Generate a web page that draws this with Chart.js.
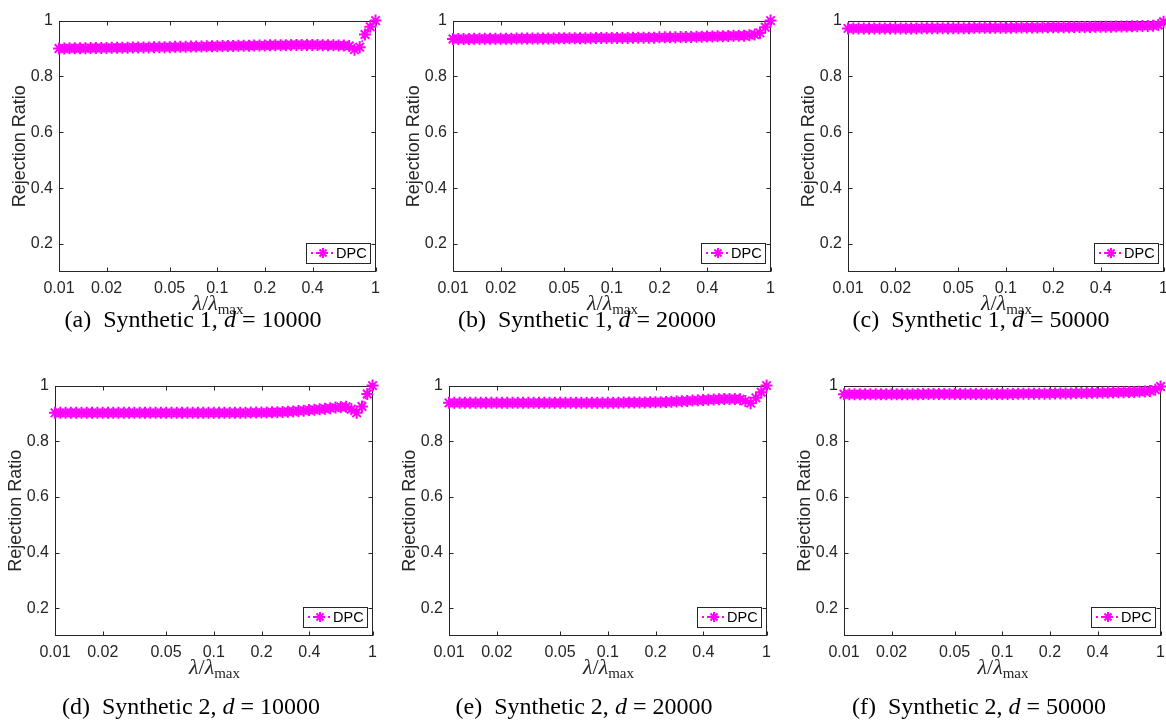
<!DOCTYPE html>
<html>
<head>
<meta charset="utf-8">
<script src="https://cdn.jsdelivr.net/npm/chart.js@4/dist/chart.umd.min.js"></script>
<style>
  body { margin: 0; width: 1166px; height: 720px; overflow: hidden; background: #fff; position: relative; }
  .panel { position: absolute; }
  .xt { position: absolute; text-align: center; font-family: "Liberation Serif", "DejaVu Serif", serif; font-size: 22px; color: #262626; line-height: 24px; }
  .xt i { font-style: italic; }
  .xt sub { font-size: 15px; vertical-align: -4px; }
  .cap { position: absolute; width: 360px; text-align: center; font-family: "Liberation Serif", "DejaVu Serif", serif; font-size: 24px; color: #000; line-height: 26px; white-space: nowrap; }
</style>
</head>
<body>
<script>
// lambda / lambda_max sample points (log spaced)
const lambdaRatio = [
  0.01, 0.0108, 0.01166, 0.01259, 0.01359, 0.01468, 0.01585, 0.01711, 0.01848, 0.01995,
  0.02154, 0.02326, 0.02512, 0.02712, 0.02929, 0.03162, 0.03415, 0.03687, 0.03981, 0.04299,
  0.04642, 0.05012, 0.05412, 0.05843, 0.0631, 0.06813, 0.07356, 0.07943, 0.08577, 0.09261,
  0.1, 0.108, 0.1166, 0.1259, 0.1359, 0.1468, 0.1585, 0.1711, 0.1848, 0.1995,
  0.2154, 0.2326, 0.2512, 0.2712, 0.2929, 0.3162, 0.3415, 0.3687, 0.3981, 0.4299,
  0.4642, 0.5012, 0.5412, 0.5843, 0.631, 0.6813, 0.7356, 0.7943, 0.8577, 0.9261,
  1
];
const xTicks = [0.01, 0.02, 0.05, 0.1, 0.2, 0.4, 1];
const yTicks = [0.2, 0.4, 0.6, 0.8, 1];

// rejection ratio of DPC
const syn1d10000 = [
  0.900, 0.900, 0.901, 0.901, 0.901, 0.901, 0.902, 0.902, 0.902, 0.902,
  0.903, 0.903, 0.903, 0.903, 0.904, 0.904, 0.904, 0.904, 0.905, 0.905,
  0.905, 0.905, 0.906, 0.906, 0.906, 0.907, 0.907, 0.907, 0.908, 0.908,
  0.908, 0.909, 0.909, 0.909, 0.910, 0.910, 0.910, 0.911, 0.911, 0.911,
  0.912, 0.912, 0.912, 0.912, 0.913, 0.913, 0.913, 0.913, 0.913, 0.913,
  0.912, 0.912, 0.912, 0.911, 0.911, 0.909, 0.896, 0.905, 0.950, 0.978,
  1.000
];
const syn1d20000 = [
  0.934, 0.934, 0.934, 0.934, 0.935, 0.935, 0.935, 0.935, 0.935, 0.935,
  0.935, 0.935, 0.936, 0.936, 0.936, 0.936, 0.936, 0.936, 0.936, 0.936,
  0.937, 0.937, 0.937, 0.937, 0.937, 0.937, 0.937, 0.938, 0.938, 0.938,
  0.938, 0.938, 0.938, 0.938, 0.939, 0.939, 0.939, 0.939, 0.939, 0.940,
  0.940, 0.940, 0.940, 0.941, 0.941, 0.941, 0.942, 0.942, 0.943, 0.943,
  0.944, 0.944, 0.945, 0.946, 0.946, 0.946, 0.948, 0.950, 0.956, 0.976,
  1.000
];
const syn1d50000 = [
  0.972, 0.972, 0.972, 0.972, 0.972, 0.972, 0.972, 0.972, 0.972, 0.972,
  0.972, 0.972, 0.972, 0.972, 0.973, 0.973, 0.973, 0.973, 0.973, 0.973,
  0.973, 0.973, 0.973, 0.973, 0.974, 0.974, 0.974, 0.974, 0.974, 0.974,
  0.974, 0.974, 0.975, 0.975, 0.975, 0.975, 0.975, 0.975, 0.976, 0.976,
  0.976, 0.976, 0.976, 0.977, 0.977, 0.977, 0.977, 0.978, 0.978, 0.978,
  0.978, 0.979, 0.979, 0.979, 0.980, 0.980, 0.981, 0.981, 0.982, 0.984,
  0.996
];
const syn2d10000 = [
  0.902, 0.902, 0.902, 0.902, 0.902, 0.902, 0.902, 0.902, 0.902, 0.902,
  0.902, 0.902, 0.902, 0.902, 0.902, 0.902, 0.902, 0.902, 0.902, 0.902,
  0.902, 0.902, 0.902, 0.902, 0.902, 0.902, 0.902, 0.902, 0.902, 0.902,
  0.902, 0.902, 0.902, 0.902, 0.902, 0.902, 0.902, 0.903, 0.903, 0.903,
  0.903, 0.904, 0.904, 0.905, 0.906, 0.907, 0.909, 0.910, 0.912, 0.913,
  0.915, 0.917, 0.919, 0.921, 0.923, 0.924, 0.915, 0.902, 0.925, 0.970,
  1.000
];
const syn2d20000 = [
  0.938, 0.938, 0.938, 0.938, 0.938, 0.938, 0.938, 0.938, 0.938, 0.938,
  0.938, 0.938, 0.938, 0.938, 0.938, 0.938, 0.938, 0.938, 0.938, 0.938,
  0.938, 0.938, 0.938, 0.938, 0.938, 0.938, 0.938, 0.938, 0.938, 0.938,
  0.938, 0.938, 0.938, 0.939, 0.939, 0.939, 0.939, 0.939, 0.940, 0.940,
  0.940, 0.941, 0.942, 0.943, 0.944, 0.945, 0.946, 0.947, 0.948, 0.949,
  0.950, 0.951, 0.952, 0.952, 0.952, 0.951, 0.945, 0.937, 0.956, 0.976,
  1.000
];
const syn2d50000 = [
  0.969, 0.969, 0.969, 0.969, 0.969, 0.969, 0.969, 0.969, 0.969, 0.969,
  0.969, 0.969, 0.969, 0.969, 0.969, 0.970, 0.970, 0.970, 0.970, 0.970,
  0.970, 0.970, 0.970, 0.970, 0.970, 0.970, 0.970, 0.970, 0.970, 0.970,
  0.970, 0.970, 0.970, 0.971, 0.971, 0.971, 0.971, 0.971, 0.971, 0.971,
  0.972, 0.972, 0.972, 0.972, 0.973, 0.973, 0.973, 0.974, 0.974, 0.974,
  0.975, 0.975, 0.976, 0.976, 0.977, 0.977, 0.978, 0.979, 0.981, 0.985,
  0.997
];

const seriesList = [syn1d10000, syn1d20000, syn1d50000, syn2d10000, syn2d20000, syn2d50000];
const tags = ['(a)', '(b)', '(c)', '(d)', '(e)', '(f)'];
const dataNames = ['Synthetic 1', 'Synthetic 1', 'Synthetic 1', 'Synthetic 2', 'Synthetic 2', 'Synthetic 2'];
const dims = ['10000', '20000', '50000', '10000', '20000', '50000'];
const methodName = 'DPC';

// plot boxes: left, top, right, bottom (page pixels)
const boxes = [
  [59, 17, 377, 272], [453, 17, 772, 272], [848, 17, 1165, 272],
  [55, 382, 374, 636], [449, 382, 768, 636], [844, 382, 1162, 636]
];
const capCenters = [[193, 319], [587, 319], [981, 319], [191, 706], [584, 706], [979, 706]];

const AX = '#262626';
const PADL = 60, PADT = 12, PADR = 10, PADB = 28;

Chart.defaults.font.family = '"Liberation Sans", Arial, sans-serif';
Chart.defaults.color = AX;

// box + inward ticks like matlab
const framePlugin = {
  id: 'frame',
  beforeDatasetsDraw(chart) {
    const { ctx, chartArea: a, scales } = chart;
    const l = Math.round(a.left) + 0.5, r = Math.round(a.right) - 0.5;
    const t = Math.round(a.top) + 0.5, b = Math.round(a.bottom) - 0.5;
    ctx.save();
    ctx.strokeStyle = AX;
    ctx.lineWidth = 1;
    ctx.strokeRect(l, t, r - l, b - t);
    ctx.beginPath();
    xTicks.forEach(v => {
      const px = Math.round(scales.x.getPixelForValue(v)) + 0.5;
      ctx.moveTo(px, b); ctx.lineTo(px, b - 4);
      ctx.moveTo(px, t); ctx.lineTo(px, t + 4);
    });
    yTicks.forEach(v => {
      const py = Math.round(scales.y.getPixelForValue(v)) + 0.5;
      ctx.moveTo(l, py); ctx.lineTo(l + 4, py);
      ctx.moveTo(r, py); ctx.lineTo(r - 4, py);
    });
    ctx.stroke();
    ctx.restore();
  }
};

const legendPlugin = {
  id: 'boxLegend',
  afterDatasetsDraw(chart) {
    const { ctx, chartArea: a } = chart;
    const ds = chart.data.datasets[0];
    const w = 64, h = 20;
    const x0 = Math.round(a.right) - 6 - w, y0 = Math.round(a.bottom) - 9 - h;
    const cy = y0 + h / 2;
    ctx.save();
    ctx.fillStyle = '#fff';
    ctx.fillRect(x0, y0, w, h);
    ctx.strokeStyle = AX;
    ctx.lineWidth = 1;
    ctx.strokeRect(x0 + 0.5, y0 + 0.5, w, h);
    ctx.strokeStyle = ds.borderColor;
    ctx.lineWidth = 2;
    ctx.setLineDash([2, 3]);
    ctx.beginPath();
    ctx.moveTo(x0 + 5, cy); ctx.lineTo(x0 + 28, cy);
    ctx.stroke();
    ctx.setLineDash([]);
    ctx.lineWidth = 2;
    ctx.fillStyle = ds.borderColor;
    Chart.helpers.drawPoint(ctx, { pointStyle: 'star', radius: 5, borderWidth: 2, rotation: 0 }, x0 + 17, cy);
    ctx.fillStyle = '#000';
    ctx.font = '14.5px "Liberation Sans", Arial, sans-serif';
    ctx.textBaseline = 'middle';
    ctx.fillText(ds.label, x0 + 30, cy + 1);
    ctx.restore();
  }
};

seriesList.forEach((ys, i) => {
  const [l, t, r, b] = boxes[i];
  const W = (r - l) + PADL + PADR, H = (b - t) + PADT + PADB;

  const wrap = document.createElement('div');
  wrap.className = 'panel';
  wrap.style.left = (l - PADL) + 'px';
  wrap.style.top = (t - PADT) + 'px';
  const cv = document.createElement('canvas');
  cv.width = W; cv.height = H;
  cv.style.width = W + 'px'; cv.style.height = H + 'px';
  wrap.appendChild(cv);
  document.body.appendChild(wrap);

  const xt = document.createElement('div');
  xt.className = 'xt';
  xt.style.left = l + 'px';
  xt.style.width = (r - l) + 'px';
  xt.style.top = (b + 19) + 'px';
  xt.innerHTML = '<i>λ</i>/<i>λ</i><sub>max</sub>';
  document.body.appendChild(xt);

  const cap = document.createElement('div');
  cap.className = 'cap';
  cap.style.left = (capCenters[i][0] - 180) + 'px';
  cap.style.top = (capCenters[i][1] - 13) + 'px';
  cap.innerHTML = tags[i] + '&nbsp; ' + dataNames[i] + ', <i>d</i> = ' + dims[i];
  document.body.appendChild(cap);

  new Chart(cv.getContext('2d'), {
    type: 'line',
    data: {
      datasets: [{
        label: methodName,
        data: lambdaRatio.map((x, k) => ({ x: x, y: ys[k] })),
        borderColor: '#ff00ff',
        borderWidth: 1.5,
        borderDash: [2, 2],
        pointStyle: 'star',
        pointRadius: 6,
        pointBorderWidth: 2,
        pointBorderColor: '#ff00ff',
        pointBackgroundColor: '#ff00ff',
        tension: 0,
        clip: false
      }]
    },
    options: {
      responsive: false,
      animation: false,
      events: [],
      layout: { padding: { top: PADT, right: PADR, left: 0, bottom: 0 } },
      plugins: { legend: { display: false }, tooltip: { enabled: false } },
      scales: {
        x: {
          type: 'logarithmic',
          min: 0.01,
          max: 1,
          afterBuildTicks: s => { s.ticks = xTicks.map(v => ({ value: v })); },
          afterFit: s => { s.height = PADB; },
          grid: { display: false, drawTicks: false },
          border: { display: false },
          ticks: {
            autoSkip: false,
            maxRotation: 0,
            padding: 7,
            color: AX,
            font: { size: 16 },
            callback: v => String(v)
          }
        },
        y: {
          type: 'linear',
          min: 0.1,
          max: 1,
          afterBuildTicks: s => { s.ticks = yTicks.map(v => ({ value: v })); },
          afterFit: s => { s.width = PADL; },
          grid: { display: false, drawTicks: false },
          border: { display: false },
          ticks: {
            padding: 6,
            color: AX,
            font: { size: 16 },
            callback: v => String(v)
          },
          title: {
            display: true,
            text: 'Rejection Ratio',
            color: AX,
            font: { size: 18 },
            padding: { top: 10, bottom: 0 }
          }
        }
      }
    },
    plugins: [framePlugin, legendPlugin]
  });
});
</script>
</body>
</html>
